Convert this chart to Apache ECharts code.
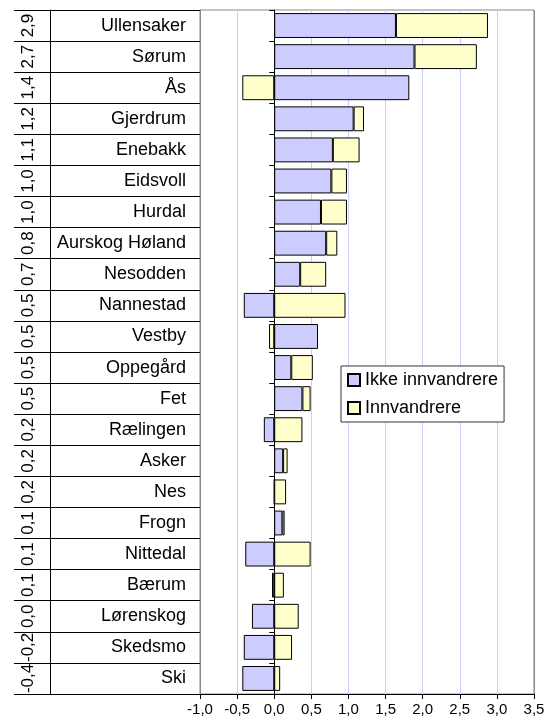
<!DOCTYPE html>
<html>
<head>
<meta charset="utf-8">
<script src="https://cdn.jsdelivr.net/npm/echarts@6/dist/echarts.min.js"></script>
<style>
  html, body { margin: 0; padding: 0; background: #fff; }
  #chart { width: 552px; height: 724px; }
</style>
</head>
<body>
<div id="chart"></div>
<script>
// kommuner, fra toppen og ned
const categories = ['Ullensaker', 'Sørum', 'Ås', 'Gjerdrum', 'Enebakk', 'Eidsvoll', 'Hurdal',
  'Aurskog Høland', 'Nesodden', 'Nannestad', 'Vestby', 'Oppegård', 'Fet', 'Rælingen', 'Asker',
  'Nes', 'Frogn', 'Nittedal', 'Bærum', 'Lørenskog', 'Skedsmo', 'Ski'];
const ikkeInnvandrere = [1.64, 1.89, 1.82, 1.07, 0.79, 0.77, 0.63, 0.70, 0.35, -0.41, 0.59,
  0.23, 0.38, -0.14, 0.12, 0, 0.11, -0.39, -0.03, -0.30, -0.41, -0.43];
const innvandrere = [1.24, 0.84, -0.43, 0.14, 0.36, 0.21, 0.35, 0.15, 0.35, 0.96, -0.07,
  0.29, 0.11, 0.38, 0.06, 0.16, 0.03, 0.49, 0.13, 0.33, 0.24, 0.08];
// totalkolonnen i tabellen til venstre
const totalLabels = ['2,9', '2,7', '1,4', '1,2', '1,1', '1,0', '1,0', '0,8', '0,7', '0,5', '0,5',
  '0,5', '0,5', '0,2', '0,2', '0,2', '0,1', '0,1', '0,1', '0,0', '-0,2', '-0,4'];

const FONT = 'Liberation Sans, Arial, sans-serif';
const fmt = (v) => v.toFixed(1).replace('.', ',');

const chart = echarts.init(document.getElementById('chart'));

const option = {
  animation: false,
  backgroundColor: '#fff',
  textStyle: { fontFamily: FONT },
  grid: [
    // selve diagrammet
    { left: 200, right: 18, top: 10, bottom: 30, show: true, borderColor: '#888', borderWidth: 1,
      outerBoundsMode: 'none' },
    // tabellen med navn
    { left: 50, width: 150, top: 10, bottom: 30, outerBoundsMode: 'none' }
  ],
  legend: {
    orient: 'vertical',
    left: 341,
    top: 366,
    padding: [5, 6, 5, 6],
    itemGap: 10,
    itemWidth: 12,
    itemHeight: 12,
    backgroundColor: '#fff',
    borderColor: '#333',
    borderWidth: 1,
    borderRadius: 0,
    textStyle: { fontSize: 18, color: '#000', fontFamily: FONT },
    data: [
      { name: 'Ikke innvandrere', icon: 'rect' },
      { name: 'Innvandrere', icon: 'rect' }
    ]
  },
  xAxis: [
    {
      type: 'value',
      gridIndex: 0,
      min: -1,
      max: 3.5,
      interval: 0.5,
      axisLine: { show: true, onZero: false, lineStyle: { color: '#000', width: 1 } },
      axisTick: { show: true, length: 5, lineStyle: { color: '#000' } },
      axisLabel: { fontSize: 15, color: '#000', margin: 8, formatter: fmt },
      splitLine: {
        show: true,
        lineStyle: { color: ['#888', '#ccccff', '#ccccff', '#ccccff', '#ccccff', '#ccccff',
          '#ccccff', '#ccccff', '#ccccff', '#888'], width: 1 }
      }
    },
    { type: 'value', gridIndex: 1, show: false }
  ],
  yAxis: [
    {
      type: 'category',
      gridIndex: 0,
      inverse: true,
      data: categories,
      axisLine: { show: true, onZero: true, lineStyle: { color: '#000', width: 1 } },
      axisTick: { show: true, interval: 0, length: 5, lineStyle: { color: '#000' } },
      axisLabel: { show: false, interval: 0 },
      splitLine: { show: false }
    },
    {
      // totalverdier, dreid
      type: 'category',
      gridIndex: 1,
      position: 'left',
      inverse: true,
      data: categories,
      axisLine: { show: true, lineStyle: { color: '#000', width: 1 } },
      axisTick: { show: true, interval: 0, length: 36, lineStyle: { color: '#000' } },
      splitLine: { show: true, interval: 0, lineStyle: { color: '#000', width: 1 } },
      axisLabel: {
        interval: 0,
        rotate: 90,
        margin: 13,
        fontSize: 17,
        color: '#000',
        formatter: (v, i) => totalLabels[i]
      }
    },
    {
      // kommunenavn
      type: 'category',
      gridIndex: 1,
      position: 'right',
      inverse: true,
      data: categories,
      axisLine: { show: true, lineStyle: { color: '#888', width: 1 } },
      axisTick: { show: false },
      splitLine: { show: false },
      axisLabel: { inside: true, interval: 0, margin: 14, fontSize: 18, color: '#000' }
    }
  ],
  series: [
    {
      name: 'Ikke innvandrere',
      type: 'bar',
      stack: 'total',
      xAxisIndex: 0,
      yAxisIndex: 0,
      barCategoryGap: '20%',
      itemStyle: { color: '#ccccff', borderColor: '#000', borderWidth: 1 },
      data: ikkeInnvandrere
    },
    {
      name: 'Innvandrere',
      type: 'bar',
      stack: 'total',
      xAxisIndex: 0,
      yAxisIndex: 0,
      barCategoryGap: '20%',
      itemStyle: { color: '#ffffcc', borderColor: '#000', borderWidth: 1 },
      data: innvandrere
    }
  ]
};

chart.setOption(option);
</script>
</body>
</html>
